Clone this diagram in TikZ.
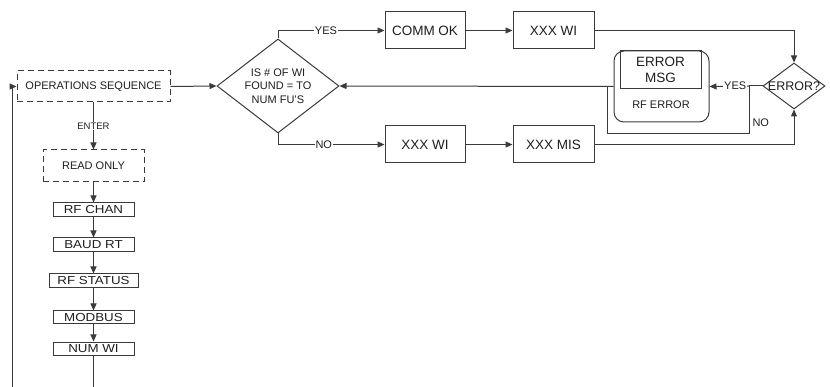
\documentclass[tikz,border=0pt]{standalone}
\usepackage{fontspec}
\setmainfont{Liberation Sans}
\usepackage{graphicx}
\usetikzlibrary{arrows.meta,shapes.geometric}
\definecolor{ln}{HTML}{3a3a3a}
\definecolor{tx}{HTML}{1e1e1e}
\newcommand{\fsz}[2]{\fontsize{#1}{#2}\selectfont}
\newcommand{\wide}[1]{\scalebox{1.15}[1]{#1}}
\tikzset{
  bx/.style={draw, rectangle, inner sep=0pt, text=tx, font=\fsz{13.5}{16}, minimum height=37pt},
  sbx/.style={draw, rectangle, inner sep=0pt, text=tx, font=\fsz{11.6}{12}, minimum height=14pt},
  dbx/.style={draw, dash pattern=on 6pt off 4pt, rectangle, inner sep=0pt, text=tx, font=\fsz{11}{12}},
  lbl/.style={fill=white, inner sep=1pt, text=tx, font=\fsz{11}{12}},
  txt/.style={text=tx, inner sep=0pt},
  arr/.style={-{Triangle[length=7pt,width=6pt]}},
}
\begin{document}
\begin{tikzpicture}[x=1pt,y=-1pt, line width=1pt, color=ln]
\useasboundingbox (0,0) rectangle (830,387);
% left column
\node[dbx, minimum width=153pt, minimum height=31pt] (ops) at (93.5,86.5) {OPERATIONS SEQUENCE};
\node[dbx, minimum width=101pt, minimum height=32pt] (ro) at (93.5,166) {READ ONLY};
\node[sbx, minimum width=81pt] (rfc) at (93.5,210) {\wide{RF CHAN}};
\node[sbx, minimum width=81pt] (baud) at (93.5,245) {\wide{BAUD RT}};
\node[sbx, minimum width=89pt] (rfs) at (93.5,281) {\wide{RF STATUS}};
\node[sbx, minimum width=81pt, minimum height=13pt] (mod) at (93.5,317.5) {\wide{MODBUS}};
\node[sbx, minimum width=81pt, minimum height=13pt] (num) at (93.5,348.5) {\wide{NUM WI}};
\coordinate (b1) at (93.5,387);
\coordinate (b2) at (12,387);
\coordinate (c2) at (12,86.5);
\draw[arr] (ops.south) -- node[lbl, font=\fsz{9.5}{10}] {ENTER} (ro.north);
\draw[arr] (ro.south) -- (rfc.north);
\draw[arr] (rfc.south) -- (baud.north);
\draw[arr] (baud.south) -- (rfs.north);
\draw[arr] (rfs.south) -- (mod.north);
\draw[arr] (mod.south) -- (num.north);
\draw (num.south) -- (b1);
\draw[arr] (b2) -- (c2) -- (ops.west);
% main decision
\node[draw, diamond, minimum width=122pt, minimum height=94pt, inner sep=0pt] (q) at (278,86) {};
\node[txt, font=\fsz{11}{13.5}, align=center] (qt) at (q.center) {IS \# OF WI\\FOUND = TO\\NUM FU'S};
\draw[arr] (ops.east) -- (q.west);
% boxes
\node[bx, minimum width=80pt] (ok) at (425,30.5) {COMM OK};
\node[bx, minimum width=81pt] (wi1) at (553.5,30.5) {XXX WI};
\node[bx, minimum width=80pt] (wi2) at (425,144.5) {XXX WI};
\node[bx, minimum width=81pt] (mis) at (553.5,144.5) {XXX MIS};
\coordinate (qy) at (278,30.5);
\coordinate (qn) at (278,144.5);
\draw[arr] (q.north) -- (qy) -- node[lbl, pos=0.45] {YES} (ok.west);
\draw[arr] (q.south) -- (qn) -- node[lbl, pos=0.43] {NO} (wi2.west);
\draw[arr] (ok.east) -- (wi1.west);
\draw[arr] (wi2.east) -- (mis.west);
% error decision
\node[draw, diamond, minimum width=62pt, minimum height=46pt, inner sep=0pt] (err) at (794,86) {};
\node[txt, font=\fsz{12.5}{13}] (errt) at (err.center) {ERROR?};
\draw[arr] (wi1.east) -- (err.north |- wi1.east) -- (err.north);
\draw[arr] (mis.east) -- (err.south |- mis.east) -- (err.south);
% error message box
\node[draw, rounded corners=10pt, minimum width=95pt, minimum height=71pt, inner sep=0pt] (rfe) at (661.5,86.5) {};
\node[draw, rectangle, minimum width=81pt, minimum height=38pt, inner sep=0pt, align=center, text=tx, font=\fsz{13.5}{16}] (msg) at (660.5,70) {ERROR\\MSG};
\node[txt, font=\fsz{11}{12}] (rft) at (661,105) {RF ERROR};
\coordinate (j) at (749,86);
\coordinate (j2) at (749,134);
\coordinate (j3) at (607,134);
\coordinate (j4) at (607,86);
\draw (err.west) -- (j);
\draw[arr] (j) -- node[lbl, pos=0.35] {YES} (rfe.east);
\draw (j) -- (j2) -- (j3) -- (j4);
\node[txt, font=\fsz{11}{12}, anchor=west] (nol) at (752,123) {NO};
\draw[arr] (rfe.west) -- (q.east);
\end{tikzpicture}
\end{document}
